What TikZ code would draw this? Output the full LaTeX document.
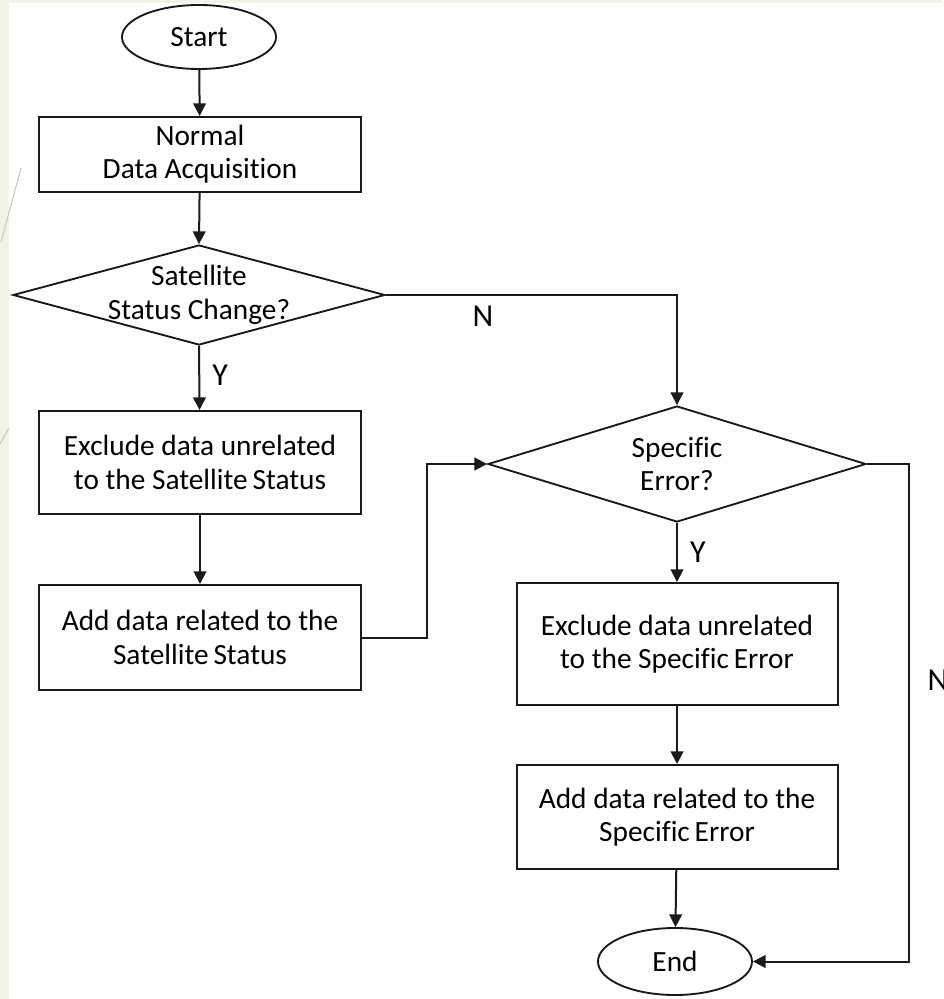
\documentclass[tikz,border=0pt]{standalone}
\usepackage{fontspec}
\setmainfont{Carlito}[Ligatures=NoCommon]
\usetikzlibrary{shapes.geometric,arrows.meta}

\definecolor{slidebg}{HTML}{F1F5E8}
\definecolor{inkline}{HTML}{1A1A1A}
\definecolor{decoline}{HTML}{C9CCBC}

\tikzset{
  x=0.75pt, y=-0.75pt,
  every node/.style={font=\fontsize{22pt}{25pt}\selectfont, text=black},
  terminal/.style={draw=inkline, line width=1.4pt, ellipse, inner sep=0pt,
    minimum width=115.5pt, minimum height=48pt},
  process/.style={draw=inkline, line width=1.5pt, rectangle, inner sep=0pt,
    minimum width=241.5pt, align=center},
  decision/.style={draw=inkline, line width=1.4pt, diamond, inner sep=0pt},
  caption/.style={align=center, inner sep=0pt},
  flag/.style={inner sep=0pt, font=\fontsize{24pt}{26pt}\selectfont},
  flow/.style={draw=inkline, line width=1.5pt,
    -{Triangle[length=9.5pt,width=9.5pt]}},
}

\begin{document}
\begin{tikzpicture}
  % page area and the pale slide margin
  \useasboundingbox (0,0) rectangle (943,999);
  \fill[white] (0,0) rectangle (943,999);
  \fill[slidebg] (0,0) rectangle (9,999);
  \fill[slidebg] (0,0) rectangle (943,3);
  \draw[decoline, line width=0.8pt] (1,242) -- (21,168);
  \draw[decoline, line width=0.8pt] (0,444) -- (9,428);

  % left column
  \node[terminal] (start) at (199,37) {Start};
  \node[process, minimum height=56.25pt] (acq) at (200,154.5) {Normal\\Data Acquisition};
  \node[decision, minimum width=279pt, minimum height=75pt] (sat) at (199,295) {};
  \node[caption] (sattxt) at (199,295) {Satellite\\Status Change?};
  \node[process, minimum height=77.25pt] (exsat) at (200,462.5) {Exclude data unrelated\\to the Satellite\,Status};
  \node[process, minimum height=78.75pt] (addsat) at (200,637.5) {Add data related to the\\Satellite\,Status};

  % right column
  \node[decision, minimum width=283.5pt, minimum height=87pt] (err) at (677,464) {};
  \node[caption] (errtxt) at (677,464) {Specific\\Error?};
  \node[process, minimum width=240.75pt, minimum height=91.5pt] (exerr) at (677,644) {Exclude data unrelated\\to the Specific\,Error};
  \node[process, minimum width=240.75pt, minimum height=78pt] (adderr) at (677,817) {Add data related to the\\Specific\,Error};
  \node[terminal, minimum height=50.25pt] (end) at (675,961.5) {End};

  % routing points
  \coordinate (satR) at (sat.east -| err.north);
  \coordinate (backUp) at (427,637.5);
  \coordinate (errR) at (909,464);
  \coordinate (endR) at (909,961.5);

  % connectors
  \draw[flow] (start) -- (acq);
  \draw[flow] (acq) -- (sat.north);
  \draw[flow] (sat.south) -- node[flag, right=9pt, pos=0.45] (y1) {Y} (exsat);
  \draw[flow] (exsat) -- (addsat);
  \draw[flow] (sat.east) -- (satR) -- (err.north);
  \draw[flow] (addsat.east) -- (backUp) |- (err.west);
  \draw[flow] (err.south) -- node[flag, right=9pt, pos=0.5] (y2) {Y} (exerr);
  \draw[flow] (exerr) -- (adderr);
  \draw[flow] (adderr) -- (end);
  \draw[flow] (err.east) -- (errR) -- (endR) -- (end.east);

  % branch labels; the right one runs past the page edge
  \node[flag] (n1) at (483,316) {N};
  \node[flag] (n2) at (938,680) {N};
\end{tikzpicture}
\end{document}
